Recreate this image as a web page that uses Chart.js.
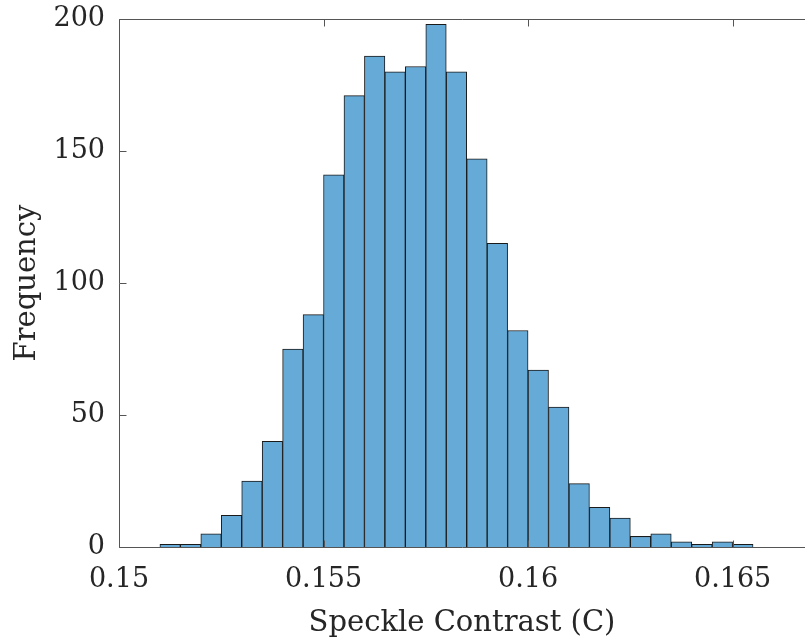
<!DOCTYPE html>
<html>
<head>
<meta charset="utf-8">
<script src="https://cdn.jsdelivr.net/npm/chart.js@4"></script>
<style>
  body { margin: 0; background: #fff; }
  canvas { display: block; }
</style>
</head>
<body>
<canvas id="grafico" width="805" height="644"></canvas>
<script>
// bin centres (bin width 0.0005) and counts
const binCentros = [
  0.15125, 0.15175, 0.15225, 0.15275, 0.15325, 0.15375, 0.15425, 0.15475,
  0.15525, 0.15575, 0.15625, 0.15675, 0.15725, 0.15775, 0.15825, 0.15875,
  0.15925, 0.15975, 0.16025, 0.16075, 0.16125, 0.16175, 0.16225, 0.16275,
  0.16325, 0.16375, 0.16425, 0.16475, 0.16525
];
const frequencias = [
  1, 1, 5, 12, 25, 40, 75, 88,
  141, 171, 186, 180, 182, 198, 180, 147,
  115, 82, 67, 53, 24, 15, 11, 4,
  5, 2, 1, 2, 1
];
const ticksX = [0.15, 0.155, 0.16, 0.165];
const rotulosX = ['0.15', '0.155', '0.16', '0.165'];
const ticksY = [0, 50, 100, 150, 200];

const FONTE = 'DejaVu Serif';
const COR_TEXTO = '#262626';

// MATLAB style box with inward ticks
const caixaMatlab = {
  id: 'caixaMatlab',
  afterDraw(chart) {
    const ctx = chart.ctx;
    const area = chart.chartArea;
    const sx = chart.scales.x;
    const sy = chart.scales.y;
    const esq = Math.round(area.left) + 0.5;
    const topo = Math.round(area.top) + 0.5;
    const base = Math.round(area.bottom) + 0.5;
    const tam = 7;

    ctx.save();
    ctx.strokeStyle = '#555';
    ctx.lineWidth = 1;
    ctx.beginPath();
    ctx.moveTo(esq, base);
    ctx.lineTo(esq, topo);
    ctx.lineTo(area.right, topo);
    ctx.moveTo(esq, base);
    ctx.lineTo(area.right, base);

    ticksX.forEach(v => {
      const px = Math.round(sx.getPixelForValue(v)) + 0.5;
      ctx.moveTo(px, base);
      ctx.lineTo(px, base - tam);
      ctx.moveTo(px, topo);
      ctx.lineTo(px, topo + tam);
    });
    ticksY.forEach(v => {
      const py = Math.round(sy.getPixelForValue(v)) + 0.5;
      ctx.moveTo(esq, py);
      ctx.lineTo(esq + tam, py);
    });
    ctx.stroke();
    ctx.restore();
  }
};

const grafico = new Chart(document.getElementById('grafico'), {
  type: 'bar',
  data: {
    datasets: [{
      data: binCentros.map((c, i) => ({ x: c, y: frequencias[i] })),
      backgroundColor: '#66aad7',
      borderColor: '#1a1a1a',
      borderWidth: 1,
      barPercentage: 1,
      categoryPercentage: 1
    }]
  },
  options: {
    responsive: false,
    animation: false,
    layout: { padding: { top: 19, left: 0, right: 0, bottom: 0 } },
    plugins: {
      legend: { display: false },
      tooltip: { enabled: false }
    },
    scales: {
      x: {
        type: 'linear',
        offset: false,
        min: 0.15,
        max: 0.16677,
        grid: { display: false, drawTicks: false },
        border: { display: false },
        afterBuildTicks: s => { s.ticks = ticksX.map(v => ({ value: v })); },
        afterFit: s => { s.height = 97; s.paddingLeft = 0; s.paddingRight = 0; },
        ticks: {
          padding: 17,
          color: COR_TEXTO,
          font: { family: FONTE, size: 27 },
          maxRotation: 0,
          callback: (v) => rotulosX[ticksX.indexOf(v)] ?? ''
        },
        title: {
          display: true,
          text: 'Speckle Contrast (C)',
          color: COR_TEXTO,
          font: { family: FONTE, size: 29 },
          padding: { top: 0, bottom: 3 }
        }
      },
      y: {
        min: 0,
        max: 200,
        grid: { display: false, drawTicks: false },
        border: { display: false },
        afterBuildTicks: s => { s.ticks = ticksY.map(v => ({ value: v })); },
        afterFit: s => { s.width = 119; s.paddingTop = 0; s.paddingBottom = 0; },
        ticks: {
          padding: 14,
          color: COR_TEXTO,
          font: { family: FONTE, size: 27 }
        },
        title: {
          display: true,
          text: 'Frequency',
          color: COR_TEXTO,
          font: { family: FONTE, size: 29 },
          padding: { top: 10, bottom: 0 }
        }
      }
    }
  },
  plugins: [caixaMatlab]
});
</script>
</body>
</html>
